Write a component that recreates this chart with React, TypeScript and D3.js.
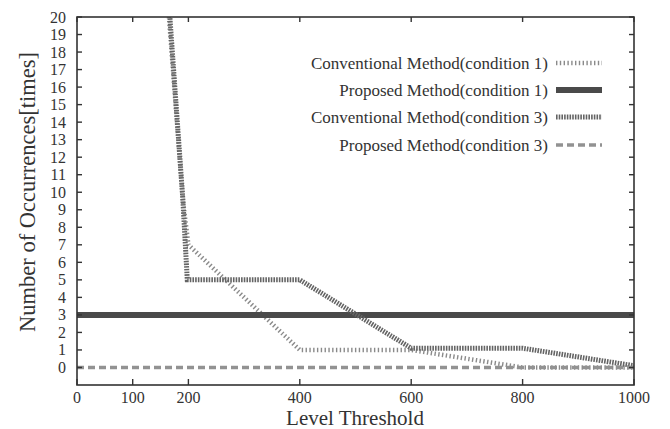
import { line, scaleLinear } from "d3";

const convCond1X = [165, 190, 200, 400, 600, 800, 1000];
const convCond1Y = [20, 9.6, 7, 1, 1, 0, 0];

const propCond1X = [0, 1000];
const propCond1Y = [3, 3];

const convCond3X = [160, 190, 198, 400, 600, 800, 1000];
const convCond3Y = [23, 9.6, 5, 5, 1.1, 1.1, 0.1];

const propCond3X = [0, 1000];
const propCond3Y = [0, 0];

const xTicks = [0, 100, 200, 400, 600, 800, 1000];
const yTicks = [0, 1, 2, 3, 4, 5, 6, 7, 8, 9, 10, 11, 12, 13, 14, 15, 16, 17, 18, 19, 20];

const legendLabels = [
  "Conventional Method(condition 1)",
  "Proposed Method(condition 1)",
  "Conventional Method(condition 3)",
  "Proposed Method(condition 3)"
];

const width = 670;
const height = 429;
const plotLeft = 77;
const plotRight = 634;
const plotTop = 17;
const plotBottom = 385;
const tickLen = 5;
const font = "'Liberation Serif', 'Times New Roman', serif";

type Style = { stroke: string; width: number; dash?: string };

const styles: Style[] = [
  { stroke: "#8a8a8a", width: 4.5, dash: "1.4 2.4" },
  { stroke: "#4a4a4a", width: 6 },
  { stroke: "#646464", width: 5, dash: "1.6 1.1" },
  { stroke: "#929292", width: 3.5, dash: "7 4" }
];

function App() {
  const x = scaleLinear().domain([0, 1000]).range([plotLeft, plotRight]);
  const y = scaleLinear().domain([-1, 20]).range([plotBottom, plotTop]);

  const path = line<[number, number]>()
    .x((d) => x(d[0]))
    .y((d) => y(d[1]));

  const series = [
    convCond1X.map((v, i) => [v, convCond1Y[i]] as [number, number]),
    propCond1X.map((v, i) => [v, propCond1Y[i]] as [number, number]),
    convCond3X.map((v, i) => [v, convCond3Y[i]] as [number, number]),
    propCond3X.map((v, i) => [v, propCond3Y[i]] as [number, number])
  ];

  const legendY = [63, 90, 117, 145];

  return (
    <svg
      width={width}
      height={height}
      style={{ position: "absolute", left: 0, top: 0, background: "#fff" }}
      fontFamily={font}
    >
      <defs>
        <clipPath id="plot-clip">
          <rect
            x={plotLeft}
            y={plotTop}
            width={plotRight - plotLeft}
            height={plotBottom - plotTop}
          />
        </clipPath>
      </defs>

      {/* data lines */}
      <g clipPath="url(#plot-clip)">
        {series.map((s, i) => (
          <path
            key={`series-${i}`}
            d={path(s) ?? ""}
            fill="none"
            stroke={styles[i].stroke}
            strokeWidth={styles[i].width}
            strokeDasharray={styles[i].dash}
          />
        ))}
      </g>

      {/* frame */}
      <rect
        x={plotLeft}
        y={plotTop}
        width={plotRight - plotLeft}
        height={plotBottom - plotTop}
        fill="none"
        stroke="#333"
        strokeWidth={1.6}
      />

      {/* y ticks */}
      {yTicks.map((t) => (
        <g key={`y-${t}`}>
          <line x1={plotLeft} x2={plotLeft + tickLen} y1={y(t)} y2={y(t)} stroke="#333" strokeWidth={1.4} />
          <line x1={plotRight} x2={plotRight - tickLen} y1={y(t)} y2={y(t)} stroke="#333" strokeWidth={1.4} />
          <text
            x={plotLeft - 11}
            y={y(t)}
            textAnchor="end"
            dominantBaseline="central"
            fontSize={16}
            fill="#333"
          >
            {t}
          </text>
        </g>
      ))}

      {/* x ticks */}
      {xTicks.map((t) => (
        <g key={`x-${t}`}>
          <line x1={x(t)} x2={x(t)} y1={plotBottom} y2={plotBottom - tickLen - 1} stroke="#333" strokeWidth={1.4} />
          <line x1={x(t)} x2={x(t)} y1={plotTop} y2={plotTop + tickLen} stroke="#333" strokeWidth={1.4} />
          <text
            x={x(t)}
            y={plotBottom + 12}
            textAnchor="middle"
            dominantBaseline="central"
            fontSize={16}
            fill="#333"
          >
            {t}
          </text>
        </g>
      ))}

      {/* axis titles */}
      <text x={355} y={425} textAnchor="middle" fontSize={21} fill="#333">
        Level Threshold
      </text>
      <text
        transform={`translate(35, 192) rotate(-90)`}
        textAnchor="middle"
        fontSize={22.5}
        fill="#333"
      >
        Number of Occurrences[times]
      </text>

      {/* legend */}
      {legendLabels.map((label, i) => (
        <g key={`legend-${i}`}>
          <text
            x={548}
            y={legendY[i]}
            textAnchor="end"
            dominantBaseline="central"
            fontSize={17}
            fill="#333"
          >
            {label}
          </text>
          <line
            x1={556}
            x2={602}
            y1={legendY[i]}
            y2={legendY[i]}
            stroke={styles[i].stroke}
            strokeWidth={styles[i].width}
            strokeDasharray={styles[i].dash}
          />
        </g>
      ))}
    </svg>
  );
}

export default App;
